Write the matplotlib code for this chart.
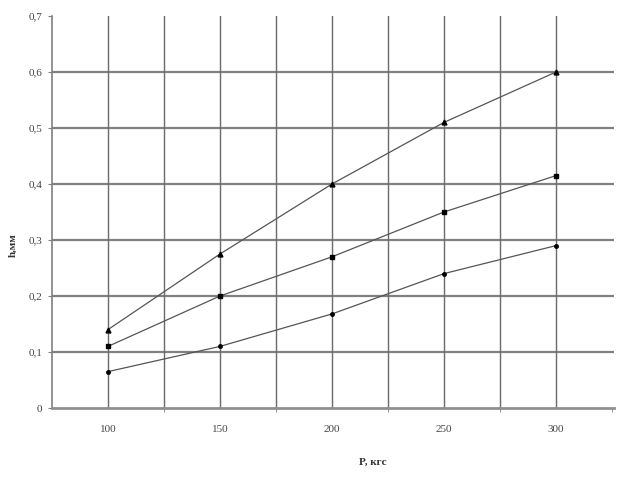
import numpy as np
import matplotlib
matplotlib.use("Agg")
import matplotlib.pyplot as plt

# нагрузка, кгс
P = [100, 150, 200, 250, 300]
# глубина отпечатка h, мм
h_top = [0.14, 0.275, 0.40, 0.51, 0.60]
h_mid = [0.11, 0.20, 0.27, 0.35, 0.415]
h_low = [0.065, 0.11, 0.168, 0.24, 0.29]

plt.rcParams['font.family'] = ['Liberation Serif', 'DejaVu Serif']

fig = plt.figure(figsize=(6.26, 4.78), dpi=100)
ax = fig.add_axes([0.083, 0.1464, 0.898, 0.82])

ax.plot(P, h_top, color='#555555', lw=0.9, marker='^', ms=3.5, mfc='black', mec='black')
ax.plot(P, h_mid, color='#555555', lw=0.9, marker='s', ms=3.2, mfc='black', mec='black')
ax.plot(P, h_low, color='#555555', lw=0.9, marker='o', ms=2.5, mfc='black', mec='black')

ax.set_xlim(75, 326)
ax.set_ylim(0, 0.7)

ax.set_xticks(P)
ax.set_xticklabels([str(p) for p in P])
ax.set_xticks(list(np.arange(100, 301, 25)) + [325], minor=True)
ax.set_yticks(np.arange(0, 0.71, 0.1))
ax.set_yticklabels(['0'] + ['0,%d' % i for i in range(1, 8)])

for y in np.arange(0.1, 0.61, 0.1):
    ax.axhline(y, color='#808080', lw=1.6, zorder=0)
for x in np.arange(100, 301, 25):
    ax.axvline(x, color='#6a6a6a', lw=1.0, zorder=0)

for s in ['top', 'right']:
    ax.spines[s].set_visible(False)
ax.spines['left'].set_color('#808080')
ax.spines['left'].set_linewidth(1.2)
ax.spines['bottom'].set_color('#909090')
ax.spines['bottom'].set_linewidth(2.0)

ax.tick_params(axis='x', which='major', length=0, pad=12, labelsize=8, colors='#444444')
ax.tick_params(axis='x', which='minor', length=3, color='#808080')
ax.tick_params(axis='y', length=3, color='#808080', labelsize=8, colors='#444444', pad=4)

fig.text(0.021, 0.488, 'h,мм', rotation=90, ha='center', va='center',
         fontsize=8, fontweight='bold', color='#333333')
fig.text(0.595, 0.032, 'P, кгс', ha='center', va='center',
         fontsize=8, fontweight='bold', color='#333333')

fig.savefig('out.png', dpi=100)
